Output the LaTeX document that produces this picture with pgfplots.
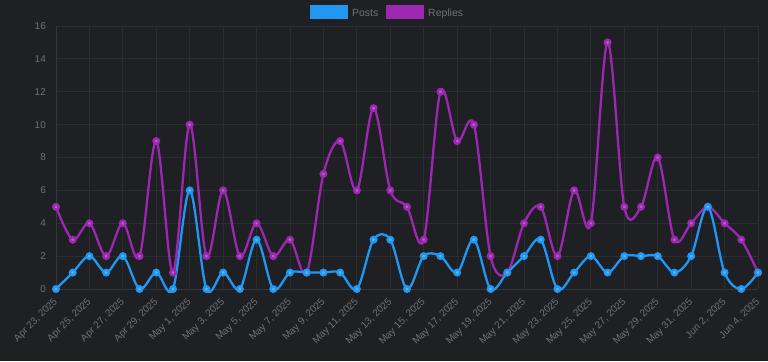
\documentclass[border=0pt]{standalone}
\usepackage{pgfplots}
\pgfplotsset{compat=1.18}
\usepackage{fontspec}
\setmainfont{Liberation Sans}
\definecolor{bg}{HTML}{1E2023}
\definecolor{gridc}{HTML}{2A2D31}
\definecolor{axc}{HTML}{33363A}
\definecolor{txt}{HTML}{6E7175}
\definecolor{posts}{HTML}{2196F3}
\definecolor{postsm}{HTML}{5AB2F5}
\definecolor{replies}{HTML}{9C27B0}
\definecolor{repliesm}{HTML}{B55AC6}

\pgfplotstableread{
d posts replies
0 0 5
1 1 3
2 2 4
3 1 2
4 2 4
5 0 2
6 1 9
7 0 1
8 6 10
9 0 2
10 1 6
11 0 2
12 3 4
13 0 2
14 1 3
15 1 1
16 1 7
17 1 9
18 0 6
19 3 11
20 3 6
21 0 5
22 2 3
23 2 12
24 1 9
25 3 10
26 0 2
27 1 1
28 2 4
29 3 5
30 0 2
31 1 6
32 2 4
33 1 15
34 2 5
35 2 5
36 2 8
37 1 3
38 2 4
39 5 5
40 1 4
41 0 3
42 1 1
}\datatable

\begin{document}
\begin{tikzpicture}[x=1bp,y=1bp]
\useasboundingbox (0,0) rectangle (768,361);
\fill[bg] (0,0) rectangle (768,361);
\begin{axis}[
  at={(56bp,72bp)}, anchor=south west,
  scale only axis, width=702bp, height=263bp,
  xmin=0, xmax=42, ymin=0, ymax=16,
  xtick={0,2,...,42},
  xticklabels={{Apr 23, 2025},{Apr 25, 2025},{Apr 27, 2025},{Apr 29, 2025},{May 1, 2025},{May 3, 2025},{May 5, 2025},{May 7, 2025},{May 9, 2025},{May 11, 2025},{May 13, 2025},{May 15, 2025},{May 17, 2025},{May 19, 2025},{May 21, 2025},{May 23, 2025},{May 25, 2025},{May 27, 2025},{May 29, 2025},{May 31, 2025},{Jun 2, 2025},{Jun 4, 2025}},
  ytick={0,2,...,16},
  major tick length=0pt,
  grid=major,
  major grid style={gridc, line width=0.8bp},
  axis line style={axc, line width=0.8bp},
  axis x line*=bottom, axis y line*=left,
  x axis line style={-}, y axis line style={-},
  tick label style={txt, font=\fontsize{10}{12}\selectfont},
  /pgf/number format/assume math mode=true,
  xticklabel style={yshift=-8bp, xshift=-3bp, rotate=45, anchor=north east, inner sep=0pt},
  yticklabel style={anchor=east, inner sep=0pt, xshift=-10bp},
  clip=false,
]
\addplot[replies, line width=2.3bp, smooth, tension=0.55, mark=*, mark size=2.8bp, mark options={draw=none, fill=repliesm}] table[x=d, y=replies] {\datatable};
\addplot[posts, line width=2.3bp, smooth, tension=0.55, mark=*, mark size=2.8bp, mark options={draw=none, fill=postsm}] table[x=d, y=posts] {\datatable};
\end{axis}
\fill[posts] (310,342) rectangle (348,356);
\node[anchor=base west, inner sep=0pt, txt, font=\fontsize{10.5}{12}\selectfont] at (352,345) {Posts};
\fill[replies] (386,342) rectangle (424,356);
\node[anchor=base west, inner sep=0pt, txt, font=\fontsize{10.5}{12}\selectfont] at (428,345) {Replies};
\end{tikzpicture}
\end{document}
